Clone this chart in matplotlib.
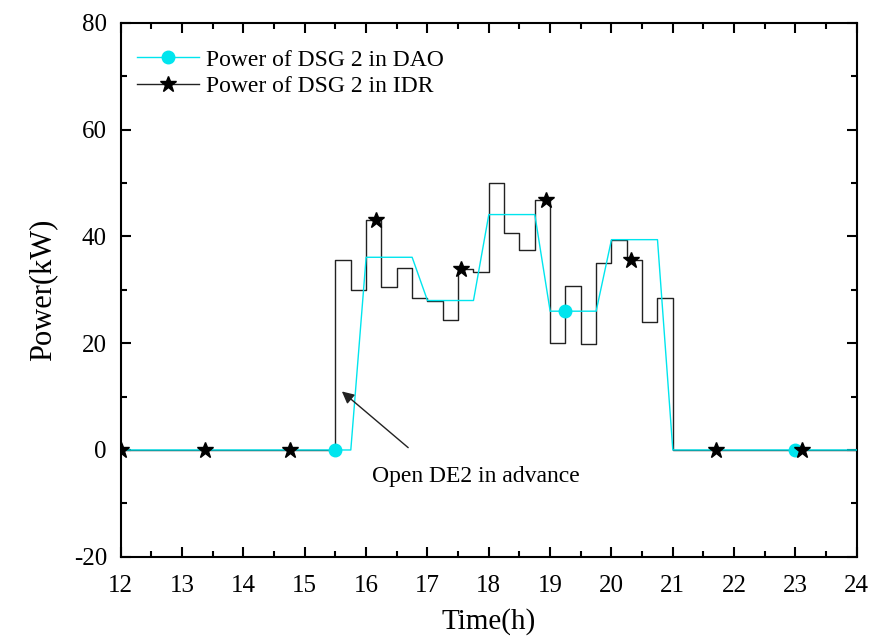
import numpy as np
import matplotlib
matplotlib.use("Agg")
import matplotlib.pyplot as plt
from matplotlib.ticker import MultipleLocator

plt.rcParams["font.family"] = ["Liberation Serif", "DejaVu Serif"]
plt.rcParams["axes.unicode_minus"] = False

# time axis, 15 min resolution from 12h to 24h
t = np.arange(12.0, 24.001, 0.25)

# day-ahead optimisation (DAO), linear ramps between hours
dao = [0] * 16 + [36.1] * 4 + [28.0] * 4 + [44.1] * 4 + [26.0] * 4 + [39.4] * 4 + [0] * 13

# intra-day rolling (IDR), step values per 15 min
idr = ([0] * 14 +
       [35.6, 30.0, 43.0, 30.6, 34.0, 28.5, 27.9, 24.3, 33.9, 33.3,
        50.0, 40.6, 37.5, 46.8, 20.1, 30.8, 19.9, 35.0, 39.4, 35.5,
        24.0, 28.5] +
       [0] * 13)

# times where the IDR star markers sit
idr_marker_t = [12.0, 13.37, 14.76, 16.16, 17.54, 18.93, 20.32, 21.70, 23.10]

dao = np.array(dao, dtype=float)
idr = np.array(idr, dtype=float)

fig = plt.figure(figsize=(8.69, 6.37), dpi=100)
ax = fig.add_axes([0.139, 0.126, 0.847, 0.838])

ax.plot(t, dao, color="#00e5ee", lw=1.0, marker="o", markersize=9,
        markevery=(14, 15), label="Power of DSG 2 in DAO", zorder=3)
ax.plot(t, idr, color="#222222", lw=1.0, drawstyle="steps-post", zorder=2)

# star markers on the IDR step curve
mt = np.array(idr_marker_t)
idx = np.searchsorted(t, mt, side="right") - 1
ax.plot(mt, idr[idx], linestyle="none", marker="*", color="k",
        markersize=12, zorder=4)
# legend handle for IDR
ax.plot([], [], color="#222222", lw=1.0, marker="*", markersize=12,
        markerfacecolor="k", markeredgecolor="k",
        label="Power of DSG 2 in IDR")

ax.annotate("", xy=(15.57, 11.3), xytext=(16.72, 0.1),
            arrowprops=dict(arrowstyle="-|>", color="#222222", lw=1.0,
                            mutation_scale=18))
ax.text(17.79, -4.9, "Open DE2 in advance", fontsize=17,
        ha="center", va="center")

ax.set_xlim(12, 24)
ax.set_ylim(-20, 80)
ax.xaxis.set_major_locator(MultipleLocator(1))
ax.xaxis.set_minor_locator(MultipleLocator(0.5))
ax.yaxis.set_major_locator(MultipleLocator(20))
ax.yaxis.set_minor_locator(MultipleLocator(10))
ax.tick_params(which="both", direction="in", top=True, right=True,
               width=1.5, labelsize=18)
ax.tick_params(which="major", length=7)
ax.tick_params(which="minor", length=4)
ax.tick_params(axis="x", which="major", pad=13)
ax.tick_params(axis="y", which="major", pad=10)
for s in ax.spines.values():
    s.set_linewidth(1.5)

ax.set_xlabel("Time(h)", fontsize=21, labelpad=8)
ax.set_ylabel("Power(kW)", fontsize=22, labelpad=12)

ax.legend(loc="upper left", frameon=False, fontsize=17, handlelength=2.6,
          handletextpad=0.3, borderaxespad=0.3, labelspacing=0.2,
          bbox_to_anchor=(0.0, 0.982))

fig.savefig("out.png", dpi=100)
